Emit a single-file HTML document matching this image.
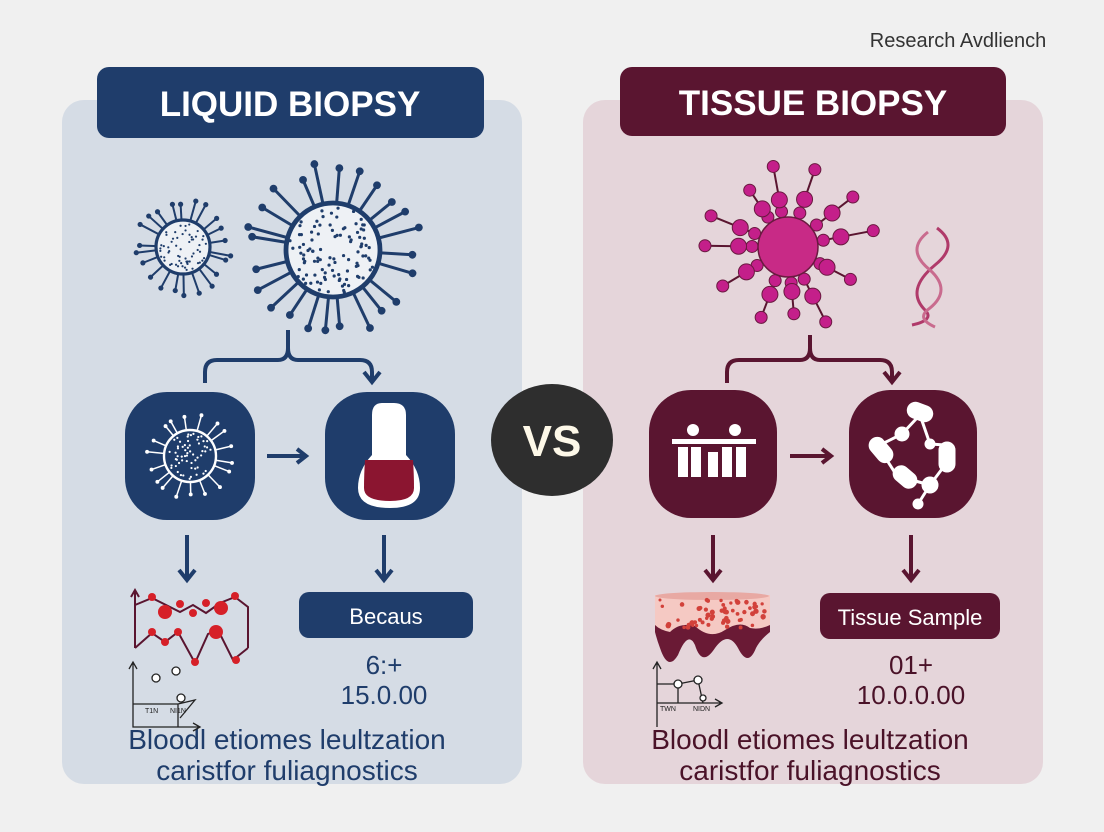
<!DOCTYPE html>
<html><head><meta charset="utf-8"><style>
html,body{margin:0;padding:0;background:#f0f0f0;}
svg{display:block;font-family:"Liberation Sans",sans-serif;}
</style></head><body>
<svg id="s" width="1104" height="832" viewBox="0 0 1104 832" xmlns="http://www.w3.org/2000/svg">
<rect width="1104" height="832" fill="#f0f0f0"/>
<text x="958" y="47" font-size="20" fill="#333" text-anchor="middle">Research Avdliench</text>
<rect x="62" y="100" width="460" height="684" rx="22" fill="#d5dce5"/>
<rect x="583" y="100" width="460" height="684" rx="22" fill="#e5d5da"/>
<rect x="97" y="67" width="387" height="71" rx="12" fill="#1f3d6b"/>
<text x="290" y="116" font-size="35" font-weight="bold" fill="#fff" text-anchor="middle">LIQUID BIOPSY</text>
<rect x="620" y="67" width="386" height="69" rx="12" fill="#5a1530"/>
<text x="813" y="115" font-size="35" font-weight="bold" fill="#fff" text-anchor="middle">TISSUE BIOPSY</text>
<ellipse cx="552" cy="440" rx="61" ry="56" fill="#2e2e2e"/>
<text x="552" y="456" font-size="44" font-weight="bold" fill="#fdf8e8" text-anchor="middle">VS</text>
<g id="dyn"></g>
<path d="M205 383 V372 Q205 360 217 360 H278 Q288 360 288 348 Q288 360 298 360 H360 Q372 360 372 372 V380" fill="none" stroke="#1f3d6b" stroke-width="4"/>
<path d="M364 372 L372 382 L380 372" fill="none" stroke="#1f3d6b" stroke-width="4"/>
<line x1="288" y1="330" x2="288" y2="350" stroke="#1f3d6b" stroke-width="4"/>
<path d="M727 383 V372 Q727 360 739 360 H800 Q810 360 810 348 Q810 360 820 360 H880 Q892 360 892 372 V380" fill="none" stroke="#5a1530" stroke-width="4"/>
<path d="M884 372 L892 382 L900 372" fill="none" stroke="#5a1530" stroke-width="4"/>
<line x1="810" y1="335" x2="810" y2="350" stroke="#5a1530" stroke-width="4"/>
<rect x="125" y="392" width="130" height="128" rx="42" fill="#1f3d6b"/>
<rect x="325" y="392" width="130" height="128" rx="42" fill="#1f3d6b"/>
<rect x="649" y="390" width="128" height="128" rx="42" fill="#5a1530"/>
<rect x="849" y="390" width="128" height="128" rx="42" fill="#5a1530"/>
<g id="dyn2"></g>
<path d="M267 456 H305 M297 449 L306 456 L297 463" fill="none" stroke="#1f3d6b" stroke-width="4"/>
<path d="M790 456 H830 M822 449 L831 456 L822 463" fill="none" stroke="#5a1530" stroke-width="4"/>
<g stroke-width="4" fill="none">
<path d="M187 535 V578 M179 570 L187 580 L195 570" stroke="#1f3d6b"/>
<path d="M384 535 V578 M376 570 L384 580 L392 570" stroke="#1f3d6b"/>
<path d="M713 535 V578 M705 570 L713 580 L721 570" stroke="#5a1530"/>
<path d="M911 535 V578 M903 570 L911 580 L919 570" stroke="#5a1530"/>
</g>
<path d="M382 403 Q372 403 372 415 V455 Q358 470 358 488 Q358 508 390 508 Q420 508 420 488 Q420 470 406 455 V415 Q406 403 394 403 Z" fill="#fff"/>
<path d="M365 460 H413 Q414 475 414 488 Q414 501 390 501 Q364 501 364 488 Q364 475 365 460Z" fill="#8b1530"/>
<g fill="#fff">
<circle cx="693" cy="430" r="6"/><circle cx="735" cy="430" r="6"/>
<rect x="672" y="439" width="84" height="5"/>
<rect x="678" y="447" width="10" height="30"/><rect x="691" y="447" width="10" height="30"/>
<rect x="708" y="452" width="10" height="25"/><rect x="722" y="447" width="10" height="30"/><rect x="736" y="447" width="10" height="30"/>
</g>
<g stroke="#fff" stroke-width="3" fill="#fff">
<line x1="917" y1="418" x2="902" y2="434"/><line x1="902" y1="434" x2="878" y2="446"/><line x1="878" y1="446" x2="897" y2="476"/><line x1="897" y1="476" x2="930" y2="485"/><line x1="930" y1="485" x2="945" y2="465"/><line x1="930" y1="444" x2="945" y2="445"/><line x1="930" y1="485" x2="918" y2="504"/><line x1="920" y1="415" x2="930" y2="444"/>
<rect x="908" y="405" width="24" height="14" rx="7" transform="rotate(20 920 412)"/>
<rect x="868" y="443" width="26" height="14" rx="7" transform="rotate(50 881 450)"/>
<rect x="940" y="443" width="14" height="28" rx="7"/>
<rect x="893" y="470" width="24" height="14" rx="7" transform="rotate(40 905 477)"/>
<circle cx="902" cy="434" r="6"/><circle cx="930" cy="444" r="4"/><circle cx="930" cy="485" r="7"/><circle cx="918" cy="504" r="4"/>
</g>
<rect x="299" y="592" width="174" height="46" rx="10" fill="#1f3d6b"/>
<text x="386" y="624" font-size="22" fill="#fff" text-anchor="middle">Becaus</text>
<rect x="820" y="593" width="180" height="46" rx="10" fill="#5a1530"/>
<text x="910" y="625" font-size="22" fill="#fff" text-anchor="middle">Tissue Sample</text>
<g font-size="26" text-anchor="middle">
<text x="384" y="674" fill="#1f3d6b">6:+</text><text x="384" y="704" fill="#1f3d6b">15.0.00</text>
<text x="911" y="674" fill="#4a1228">01+</text><text x="911" y="704" fill="#4a1228">10.0.0.00</text>
</g>
<g font-size="28" text-anchor="middle">
<text x="287" y="749" fill="#1f3d6b">Bloodl etiomes leultzation</text>
<text x="287" y="780" fill="#1f3d6b">caristfor fuliagnostics</text>
<text x="810" y="749" fill="#4a1228">Bloodl etiomes leultzation</text>
<text x="810" y="780" fill="#4a1228">caristfor fuliagnostics</text>
</g>
<g stroke="#5a1530" stroke-width="2" fill="none">
<path d="M135 648 V590 M131 597 L135 590 L139 597"/>
<path d="M135 605 L152 598 L180 612 L193 605 L206 613 L220 603 L235 597 L248 607 V648"/>
<path d="M135 648 L152 633 L165 642 L178 632 L195 663 L208 634 L218 630 L233 660 L248 648"/>
<path d="M133 727 V662 M129 669 L133 662 L137 669 M133 704 H178 V727 M178 704 L195 700 L180 718 M133 707 V727 H200 M193 723 L200 727 L193 731" stroke="#222" stroke-width="1.3"/>
</g>
<g fill="#d62028">
<circle cx="152" cy="597" r="4"/><circle cx="165" cy="612" r="7"/><circle cx="180" cy="604" r="4"/><circle cx="193" cy="613" r="4"/><circle cx="206" cy="603" r="4"/><circle cx="221" cy="608" r="7"/><circle cx="235" cy="596" r="4"/>
<circle cx="152" cy="632" r="4"/><circle cx="165" cy="642" r="4"/><circle cx="178" cy="632" r="4"/><circle cx="195" cy="662" r="4"/><circle cx="216" cy="632" r="7"/><circle cx="236" cy="660" r="4"/>
</g>
<g fill="#fff" stroke="#222" stroke-width="1.3"><circle cx="156" cy="678" r="4"/><circle cx="176" cy="671" r="4"/><circle cx="181" cy="698" r="4"/></g>
<text x="145" y="713" font-size="7" fill="#222">T1N</text><text x="170" y="713" font-size="7" fill="#222">NI1N</text>
<path d="M655 595 H770 V632 Q760 640 756 648 Q748 668 738 648 Q728 630 715 648 Q702 668 695 645 Q688 630 678 655 Q668 672 660 648 Q657 640 655 632 Z" fill="#6a1a35"/>
<path d="M655 595 H770 V625 Q760 630 750 628 Q740 620 725 630 Q710 640 695 626 Q680 622 670 632 Q660 630 655 625 Z" fill="#f5c9c3"/>
<ellipse cx="712" cy="596" rx="57" ry="4" fill="#e8a9a3"/>
<g id="tdots" fill="#d2413a"></g>
<g stroke="#222" stroke-width="1.3" fill="none">
<path d="M657 727 V662 M653 669 L657 662 L661 669 M657 684 H678 V703 M678 684 L698 680 L703 703 M657 700 V703 H722 M715 699 L722 703 L715 707"/>
</g>
<g fill="#fff" stroke="#222" stroke-width="1.3"><circle cx="678" cy="684" r="4"/><circle cx="698" cy="680" r="4"/><circle cx="703" cy="698" r="3"/></g>
<text x="660" y="711" font-size="7" fill="#222">TWN</text><text x="693" y="711" font-size="7" fill="#222">NIDN</text>
<g fill="none" stroke="#b03a6a" stroke-width="3">
<path d="M937 228 Q960 245 935 265 Q905 290 925 310 Q935 320 912 325"/>
<path d="M928 232 Q905 250 930 270 Q952 290 930 308 Q915 318 935 327" stroke="#c96b8e"/>
</g>
</svg>
<script>
var NS="http://www.w3.org/2000/svg",g=document.getElementById("dyn"),g2=document.getElementById("dyn2");
function el(t,a,p){var e=document.createElementNS(NS,t);for(var k in a)e.setAttribute(k,a[k]);(p||g).appendChild(e);return e;}
function rnd(i){var x=Math.sin(i*12.9898)*43758.5453;return x-Math.floor(x);}
function virus(cx,cy,r,L,n,col,fill,sw,seed,p){
 for(var i=0;i<n;i++){var a=i/n*Math.PI*2+rnd(seed+i)*0.2,l=L*(0.75+0.35*rnd(seed+i*3));
  el("line",{x1:cx,y1:cy,x2:cx+Math.cos(a)*(r+l),y2:cy+Math.sin(a)*(r+l),stroke:col,"stroke-width":sw},p);
  el("circle",{cx:cx+Math.cos(a)*(r+l),cy:cy+Math.sin(a)*(r+l),r:sw*1.3,fill:col},p);}
 el("circle",{cx:cx,cy:cy,r:r,fill:fill,stroke:col,"stroke-width":sw*1.6},p);
 for(var j=0;j<r*2.2;j++){var a2=rnd(seed+j*7)*6.283,d=Math.sqrt(rnd(seed+j*11))*(r-3);
  el("circle",{cx:cx+Math.cos(a2)*d,cy:cy+Math.sin(a2)*d,r:r>40?1.6:1.1,fill:col},p);}
}
virus(183,247,27,20,22,"#1f3d6b","#eef1f5",2,1);
virus(333,250,47,38,24,"#1f3d6b","#eef1f5",3,50);
virus(190,456,26,16,18,"#fff","#1f3d6b",1.5,90,g2);
var cx=788,cy=247;
for(var i=0;i<12;i++){var a=i/12*6.283+0.3+rnd(i+40)*0.3,l1=44+12*rnd(i),l2=l1+20+14*rnd(i+5);
 el("line",{x1:cx,y1:cy,x2:cx+Math.cos(a)*l2,y2:cy+Math.sin(a)*l2,stroke:"#5a1530","stroke-width":2});
 el("circle",{cx:cx+Math.cos(a)*36,cy:cy+Math.sin(a)*36,r:6,fill:"#c41f8a",stroke:"#6a1a40","stroke-width":1});
 el("circle",{cx:cx+Math.cos(a)*l1,cy:cy+Math.sin(a)*l1,r:8,fill:"#c41f8a",stroke:"#6a1a40","stroke-width":1});
 el("circle",{cx:cx+Math.cos(a)*l2,cy:cy+Math.sin(a)*l2,r:6,fill:"#c41f8a",stroke:"#6a1a40","stroke-width":1});}
el("circle",{cx:cx,cy:cy,r:30,fill:"#c82a86",stroke:"#6a1a40","stroke-width":1.5});
var t=document.getElementById("tdots");
for(var k=0;k<60;k++){el("circle",{cx:660+rnd(k*5)*106,cy:600+rnd(k*9)*28,r:1.5+rnd(k)*1.2},t);}
</script>
</body></html>
